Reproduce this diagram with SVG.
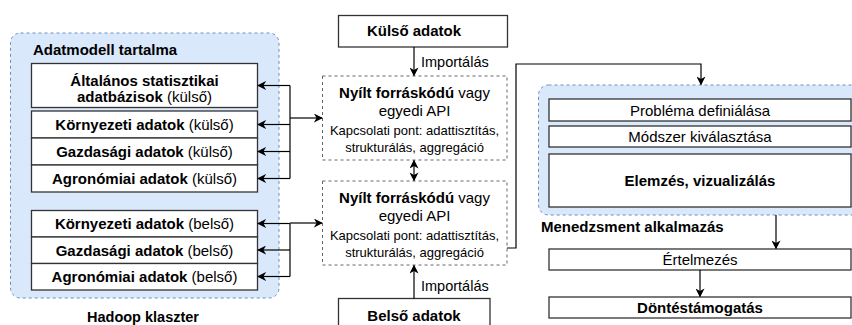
<svg xmlns="http://www.w3.org/2000/svg" width="852" height="325" viewBox="0 0 852 325">
<style>
text{font-family:"Liberation Sans",Arial,sans-serif;font-size:15px;fill:#000}
.b{font-weight:bold}
.s{font-size:13px}
.i{font-size:14.5px}
.h{font-size:14.5px}
.m{text-anchor:middle}
.cont{fill:#dae8fc;stroke:#6c8ebf;stroke-width:1;stroke-dasharray:3,3}
.box{fill:#fff;stroke:#333;stroke-width:1.3}
.dbox{fill:#fff;stroke:#666;stroke-width:1;stroke-dasharray:3,3}
.c{fill:none;stroke:#000;stroke-width:1.2}
</style>
<defs>
<marker id="ah" viewBox="0 0 10 10" refX="9" refY="5" markerWidth="9" markerHeight="9" markerUnits="userSpaceOnUse" orient="auto-start-reverse">
<path d="M0,0 L10,5 L0,10 L3,5 Z" fill="#000"/>
</marker>
</defs>

<g id="hadoop">
<rect class="cont" x="10.5" y="33" width="268.5" height="265" rx="10"/>
<text class="b" x="33" y="55">Adatmodell tartalma</text>
<text class="b m h" x="143" y="322">Hadoop klaszter</text>
</g>
<g id="altalanos">
<rect class="box" x="31.5" y="63.5" width="226" height="44"/>
<text class="m" x="144.5" y="86"><tspan class="b">Általános statisztikai</tspan></text>
<text class="m" x="144.5" y="102"><tspan class="b">adatbázisok</tspan> (külső)</text>
</g>
<g id="kornyezeti-kulso">
<rect class="box" x="31.5" y="111" width="226" height="27"/>
<text class="m" x="144.5" y="130"><tspan class="b">Környezeti adatok</tspan> (külső)</text>
</g>
<g id="gazdasagi-kulso">
<rect class="box" x="31.5" y="138" width="226" height="27"/>
<text class="m" x="144.5" y="157"><tspan class="b">Gazdasági adatok</tspan> (külső)</text>
</g>
<g id="agronomiai-kulso">
<rect class="box" x="31.5" y="165" width="226" height="27"/>
<text class="m" x="144.5" y="184"><tspan class="b">Agronómiai adatok</tspan> (külső)</text>
</g>
<g id="kornyezeti-belso">
<rect class="box" x="31.5" y="210.5" width="226" height="26.5"/>
<text class="m" x="144.5" y="229"><tspan class="b">Környezeti adatok</tspan> (belső)</text>
</g>
<g id="gazdasagi-belso">
<rect class="box" x="31.5" y="237" width="226" height="26.5"/>
<text class="m" x="144.5" y="255.5"><tspan class="b">Gazdasági adatok</tspan> (belső)</text>
</g>
<g id="agronomiai-belso">
<rect class="box" x="31.5" y="263.5" width="226" height="26.5"/>
<text class="m" x="144.5" y="282"><tspan class="b">Agronómiai adatok</tspan> (belső)</text>
</g>

<g id="kulso-adatok">
<rect class="box" x="338.5" y="15.5" width="169" height="31.5"/>
<text class="b m" x="414" y="36">Külső adatok</text>
</g>
<g id="api-1">
<rect class="dbox" x="322.5" y="76" width="184.5" height="84"/>
<text class="m" x="414.5" y="98"><tspan class="b">Nyílt forráskódú</tspan> vagy</text>
<text class="m" x="414.5" y="116">egyedi API</text>
<text class="m s" x="414.5" y="135">Kapcsolati pont: adattisztítás,</text>
<text class="m s" x="414.5" y="152">strukturálás, aggregáció</text>
</g>
<g id="api-2">
<rect class="dbox" x="322.5" y="181" width="184.5" height="84"/>
<text class="m" x="414.5" y="203"><tspan class="b">Nyílt forráskódú</tspan> vagy</text>
<text class="m" x="414.5" y="221">egyedi API</text>
<text class="m s" x="414.5" y="240">Kapcsolati pont: adattisztítás,</text>
<text class="m s" x="414.5" y="257">strukturálás, aggregáció</text>
</g>
<g id="belso-adatok">
<rect class="box" x="338.5" y="298.5" width="151.5" height="35"/>
<text class="b m" x="414" y="321">Belső adatok</text>
</g>

<g id="menedzsment">
<rect class="cont" x="538.5" y="85" width="330" height="130" rx="10"/>
<text class="b" x="541" y="232">Menedzsment alkalmazás</text>
</g>
<g id="problema">
<rect class="box" x="549" y="99" width="302" height="22"/>
<text class="m" x="700" y="115.5">Probléma definiálása</text>
</g>
<g id="modszer">
<rect class="box" x="549" y="126" width="302" height="21"/>
<text class="m" x="700" y="142">Módszer kiválasztása</text>
</g>
<g id="elemzes">
<rect class="box" x="549" y="154" width="302" height="53"/>
<text class="b m" x="700" y="186">Elemzés, vizualizálás</text>
</g>
<g id="ertelmezes">
<rect class="box" x="549" y="249" width="302" height="21"/>
<text class="m" x="700" y="265">Értelmezés</text>
</g>
<g id="dontes">
<rect class="box" x="549" y="297" width="302" height="21"/>
<text class="b m" x="700" y="313">Döntéstámogatás</text>
</g>

<g id="connectors">
<path class="c" d="M290,85.5 V178.5"/>
<path class="c" d="M290,85.5 H258" marker-end="url(#ah)"/>
<path class="c" d="M290,124.5 H258" marker-end="url(#ah)"/>
<path class="c" d="M290,151.5 H258" marker-end="url(#ah)"/>
<path class="c" d="M290,178.5 H258" marker-end="url(#ah)"/>
<path class="c" d="M290,118 H322" marker-end="url(#ah)"/>

<path class="c" d="M290,223.5 V276.5"/>
<path class="c" d="M290,223.5 H258" marker-end="url(#ah)"/>
<path class="c" d="M290,250 H258" marker-end="url(#ah)"/>
<path class="c" d="M290,276.5 H258" marker-end="url(#ah)"/>
<path class="c" d="M290,223 H322" marker-end="url(#ah)"/>

<path class="c" d="M414,47 V75.5" marker-end="url(#ah)"/>
<text class="i" x="421" y="67">Importálás</text>
<path class="c" d="M414,160.5 V180.5" marker-start="url(#ah)" marker-end="url(#ah)"/>
<path class="c" d="M414,298.5 V265.5" marker-end="url(#ah)"/>
<text class="i" x="421" y="291">Importálás</text>

<path class="c" d="M507,248 H516 V64 H701 V84.5" marker-end="url(#ah)"/>
<path class="c" d="M776,215 V248.5" marker-end="url(#ah)"/>
<path class="c" d="M700,270 V296.5" marker-end="url(#ah)"/>
</g>
</svg>
